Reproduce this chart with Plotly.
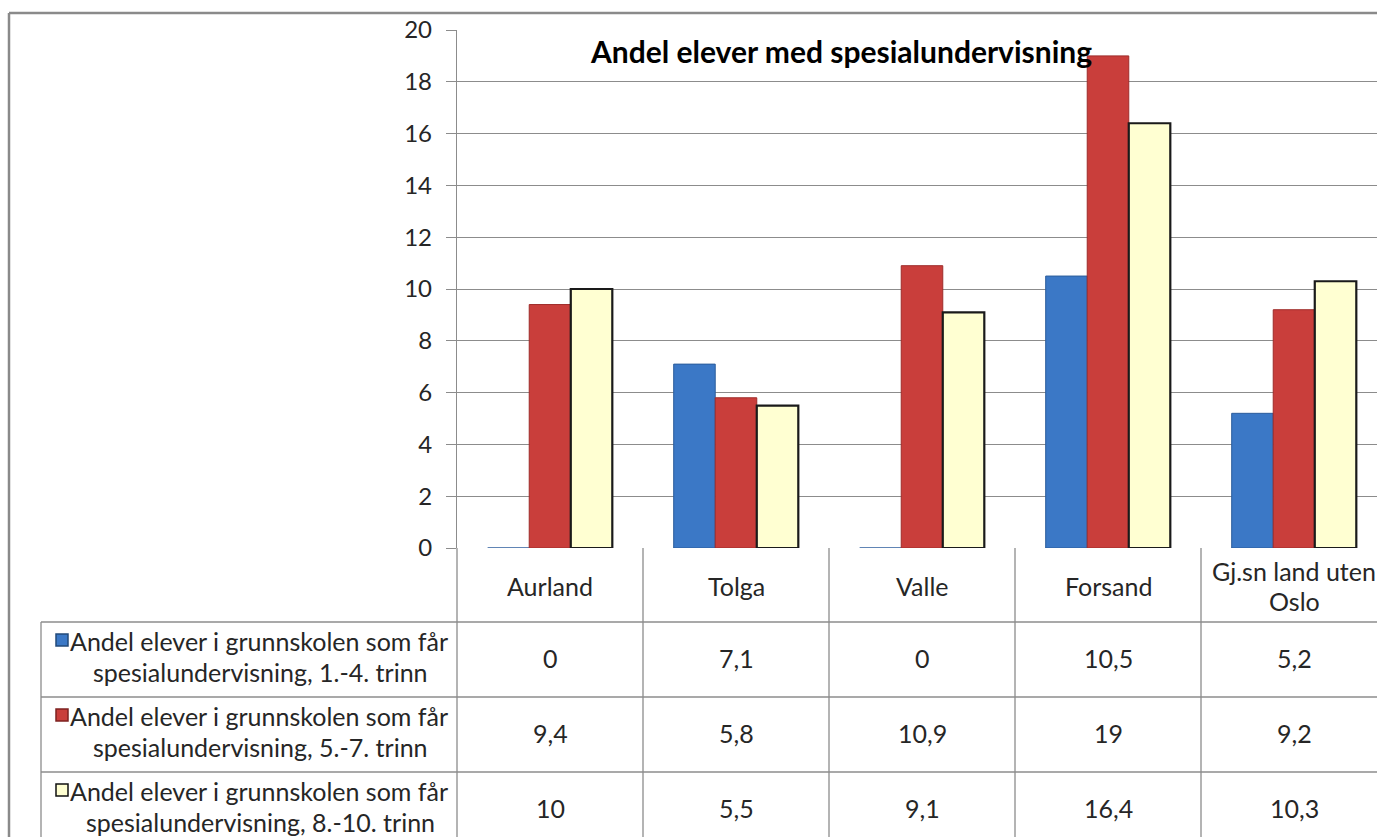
import plotly.graph_objects as go

# ---------------- data ----------------
categories = ["Aurland", "Tolga", "Valle", "Forsand", "Gj.sn land uten Oslo"]
category_lines = [["Aurland"], ["Tolga"], ["Valle"], ["Forsand"], ["Gj.sn land uten", "Oslo"]]
series_names = [
    "Andel elever i grunnskolen som får spesialundervisning, 1.-4. trinn",
    "Andel elever i grunnskolen som får spesialundervisning, 5.-7. trinn",
    "Andel elever i grunnskolen som får spesialundervisning, 8.-10. trinn",
]
trinn_1_4 = [0, 7.1, 0, 10.5, 5.2]
trinn_5_7 = [9.4, 5.8, 10.9, 19, 9.2]
trinn_8_10 = [10, 5.5, 9.1, 16.4, 10.3]
y_ticks = [0, 2, 4, 6, 8, 10, 12, 14, 16, 18, 20]
title_text = "Andel elever med spesialundervisning"

series_values = [trinn_1_4, trinn_5_7, trinn_8_10]

# ---------------- style ----------------
OFF = 0  # body margin removed by post_script below
W, H = 1377 - OFF, 837 - OFF
# target screen pixels of the plot area
SL, SR, ST, SB = 457, 1377, 30, 548
PL, PR, PT, PB = SL - OFF, SR - OFF, ST - OFF, SB - OFF
FONT = "Lato, Calibri, 'Noto Sans', sans-serif"
FS = 25
TXT = "#262626"
GRID = "#8c8c8c"
fills = ["#3b78c6", "#c93e3b", "#ffffd2"]
edges = ["#2c5d9c", "#9e2c2a", "#1a1a1a"]
edge_w = [1, 1, 2.2]
key_fills = ["#3b78c6", "#c93e3b", "#ffffd2"]
key_edges = ["#23497a", "#7d2220", "#111111"]

cat_w = 186.0
x_lo = -0.5
x_hi = x_lo + (PR - PL) / cat_w


def px_x(p):
    """screen pixel x -> paper x"""
    return (p - OFF - PL) / (PR - PL)


def px_y(p):
    """screen pixel y -> paper y"""
    return (PB - (p - OFF)) / (PB - PT)


fig = go.Figure()
for name, vals, f, e, w in zip(series_names, series_values, fills, edges, edge_w):
    fig.add_trace(go.Bar(
        x=categories, y=vals, name=name,
        marker=dict(color=f, line=dict(color=e, width=w)),
        showlegend=False, hoverinfo="x+y",
    ))

shapes = []
annotations = []

# outer chart border (left and top)
shapes.append(dict(type="line", xref="paper", yref="paper",
                   x0=px_x(9), x1=px_x(1390), y0=px_y(13), y1=px_y(13),
                   line=dict(color="#8a8a8a", width=2.5)))
shapes.append(dict(type="line", xref="paper", yref="paper",
                   x0=px_x(9), x1=px_x(9), y0=px_y(13), y1=px_y(850),
                   line=dict(color="#8a8a8a", width=2.5)))

# table rows (screen pixel boundaries)
row_tops = [548, 622, 697, 772]
row_h = 75
TBL_LEFT = 41

for yb in row_tops[1:]:
    shapes.append(dict(type="line", xref="paper", yref="paper",
                       x0=px_x(TBL_LEFT), x1=1.0, y0=px_y(yb), y1=px_y(yb),
                       line=dict(color=GRID, width=1.3)))
shapes.append(dict(type="line", xref="paper", yref="paper",
                   x0=px_x(TBL_LEFT), x1=px_x(TBL_LEFT), y0=px_y(622), y1=px_y(850),
                   line=dict(color=GRID, width=1.3)))
for k in range(len(categories) + 1):
    xb = SL + k * cat_w
    if xb > SR:
        break
    shapes.append(dict(type="line", xref="paper", yref="paper",
                       x0=px_x(xb), x1=px_x(xb), y0=px_y(548), y1=px_y(850),
                       line=dict(color=GRID, width=1.3)))

# category header row
for cat, lines in zip(categories, category_lines):
    n = len(lines)
    yc = row_tops[0] + row_h / 2
    for i, ln in enumerate(lines):
        off = (i - (n - 1) / 2) * 30
        annotations.append(dict(x=cat, xref="x", y=px_y(yc), yref="paper",
                                text=ln, showarrow=False, yshift=-off,
                                font=dict(family=FONT, size=FS, color=TXT),
                                xanchor="center", yanchor="middle"))

# series rows: labels + values
for r, (name, vals) in enumerate(zip(series_names, series_values)):
    top = row_tops[r + 1]
    yc = top + row_h / 2 - 2
    parts = name.split(" som får ")
    line1 = parts[0] + " som får"
    line2 = parts[1]
    annotations.append(dict(x=px_x(259), xref="paper", y=px_y(yc), yref="paper",
                            text=line1, showarrow=False, yshift=17,
                            font=dict(family=FONT, size=FS, color=TXT),
                            xanchor="center", yanchor="middle"))
    annotations.append(dict(x=px_x(260), xref="paper", y=px_y(yc), yref="paper",
                            text=line2, showarrow=False, yshift=-14,
                            font=dict(family=FONT, size=FS, color=TXT),
                            xanchor="center", yanchor="middle"))
    ky = top + 18
    shapes.append(dict(type="rect", xref="paper", yref="paper",
                       x0=px_x(56), x1=px_x(68), y0=px_y(ky - 6), y1=px_y(ky + 6),
                       fillcolor=key_fills[r], line=dict(color=key_edges[r], width=1.5)))
    for cat, v in zip(categories, vals):
        txt = (str(int(v)) if float(v).is_integer() else str(v)).replace(".", ",")
        annotations.append(dict(x=cat, xref="x", y=px_y(yc), yref="paper",
                                text=txt, showarrow=False,
                                font=dict(family=FONT, size=FS, color=TXT),
                                xanchor="center", yanchor="middle"))

# title
annotations.append(dict(x=px_x(841), xref="paper", y=px_y(51), yref="paper",
                        text="<b>" + title_text + "</b>", showarrow=False,
                        font=dict(family=FONT, size=30, color="#000000"),
                        xanchor="center", yanchor="middle"))

fig.update_layout(
    width=W, height=H,
    margin=dict(l=PL, r=W - PR, t=PT, b=H - PB, pad=0),
    paper_bgcolor="white", plot_bgcolor="white",
    barmode="group", bargap=0.33, bargroupgap=0,
    shapes=shapes, annotations=annotations,
    font=dict(family=FONT, color=TXT),
    xaxis=dict(range=[x_lo, x_hi], showticklabels=False, showgrid=False,
               showline=False, zeroline=False, ticks="", fixedrange=True),
    yaxis=dict(range=[0, 20], tickvals=y_ticks, ticks="outside", ticklen=10,
               tickcolor=GRID, tickwidth=1.3,
               showgrid=True, gridcolor=GRID, gridwidth=1.3,
               showline=True, linecolor=GRID, linewidth=1.3,
               zeroline=False, ticklabelstandoff=9,
               tickfont=dict(family=FONT, size=24, color=TXT), fixedrange=True),
)

fig.write_html(
    "out.html",
    config={"displayModeBar": False},
    post_script="document.body.style.margin='0';"
                "document.documentElement.style.overflow='hidden';"
                "document.body.style.overflow='hidden';",
)
